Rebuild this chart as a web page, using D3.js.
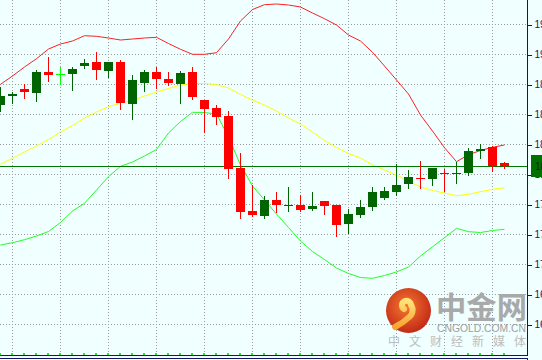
<!DOCTYPE html>
<html>
<head>
<meta charset="utf-8">
<script src="https://cdnjs.cloudflare.com/ajax/libs/d3/7.8.5/d3.min.js"></script>
<style>
	html, body { margin: 0; padding: 0; background: #F0FFFF; overflow: hidden; }
	#chart { width: 542px; height: 360px; }
	.axisLabel { font-family: "Liberation Sans", Arial, sans-serif; font-size: 10px; }
</style>
</head>
<body>
<div id="chart"></div>
<script>
// candles (oldest first)
var opens  = [1869, 1878.3, 1885.3, 1881.3, 1902.3, 1900, 1900.3, 1908.3, 1912.3, 1903.3,
              1912.3, 1870.3, 1891.3, 1902, 1895, 1890, 1902, 1874, 1866, 1858,
              1806.3, 1763.3, 1758.3, 1774, 1768.3, 1769, 1765.3, 1773, 1769, 1750.3,
              1759, 1767.3, 1776.3, 1782.3, 1789.7, 1796, 1795.3, 1800.5, 1799.7, 1801.3,
              1822.7, 1826.7, 1810.7];
var highs  = [1886.7, 1882.3, 1889.7, 1904.3, 1917, 1907.3, 1907.3, 1915.3, 1922.3, 1912.3,
              1914, 1899, 1904, 1907.3, 1902, 1903, 1907.3, 1874, 1869, 1863,
              1820.7, 1789, 1778, 1782, 1787, 1779.3, 1782, 1773, 1769, 1764.7,
              1774, 1787, 1787, 1809.7, 1804, 1813, 1806, 1805, 1812.3, 1825.7,
              1830, 1828.3, 1812.3];
var lows   = [1862.3, 1870, 1875, 1872.3, 1892.3, 1889, 1883.3, 1905.3, 1894, 1896.3,
              1864, 1854, 1882.3, 1884.7, 1888, 1869.7, 1874, 1841.3, 1849, 1795.3,
              1755, 1757.3, 1755.3, 1761.3, 1762.3, 1761.7, 1763.3, 1759.3, 1737.3, 1740,
              1756.3, 1763.3, 1774, 1778.3, 1785.3, 1785.3, 1788.3, 1782.3, 1790.3, 1797.7,
              1814.7, 1802.3, 1805];
var closes = [1878, 1880.3, 1882.3, 1902.3, 1899.3, 1900, 1905.3, 1911.3, 1904, 1912.3,
              1871.3, 1894, 1902, 1895.3, 1891.3, 1900.7, 1877.3, 1865, 1857.3, 1805,
              1762, 1759.3, 1774, 1769.3, 1769, 1764.3, 1768, 1768.3, 1749.3, 1760,
              1766.7, 1782, 1783, 1789, 1797, 1795.5, 1806, 1800, 1801.3, 1823,
              1825, 1808.3, 1808.3];

// bollinger bands
var upperBand  = [1889.7, 1898, 1907, 1915.3, 1925, 1930, 1933, 1938.3, 1937.7, 1936,
                  1934, 1935, 1936, 1936.7, 1930.5, 1924.7, 1919.7, 1919.7, 1921.3, 1935,
                  1953, 1964.5, 1969.3, 1970, 1969, 1967, 1961, 1955.3, 1949, 1939,
                  1933, 1921.7, 1908, 1894, 1880, 1859, 1843, 1826.3, 1812.3, 1819.3,
                  1823.5, 1826.7, 1829];
var middleBand = [1810, 1815.7, 1822, 1828, 1834.5, 1842, 1848.5, 1856, 1862, 1867.3,
                  1871, 1873.7, 1878, 1882, 1885.5, 1889, 1890.7, 1890.5, 1889.5, 1886,
                  1879.5, 1874, 1869, 1863, 1856, 1850, 1842, 1833.5, 1826.5, 1820.5,
                  1816, 1809.3, 1804, 1799, 1793, 1787, 1783.5, 1781, 1778.3, 1779.7,
                  1782.3, 1784.7, 1786.3];
var lowerBand  = [1729, 1731.3, 1734.3, 1738, 1742.5, 1751.5, 1763, 1770.7, 1784, 1797.3,
                  1807.7, 1812, 1818, 1824.5, 1841, 1852.5, 1861.7, 1861.5, 1860, 1837,
                  1809, 1788, 1774, 1760, 1746.5, 1733, 1722.5, 1714.5, 1706, 1700.5,
                  1696.5, 1695.7, 1698.5, 1702, 1707, 1718, 1727.2, 1736.3, 1745.7, 1742.3,
                  1741.5, 1743.5, 1744.7];

var yTicks = [1950, 1920, 1890, 1860, 1830, 1800, 1770, 1740, 1710, 1680, 1650];
var currentPrice = 1808;

//COLOURS
var COLOUR_BG = "#F0FFFF";
var COLOUR_UP = "#006400";
var COLOUR_DOWN = "#FF0000";
var COLOUR_DOJI = "#00FF00";
var COLOUR_AXIS = "#141464";
var COLOUR_GRID = "#9A9A9A";

var width = 542;
var height = 360;
var plotRight = 527;

var svg = d3.select("#chart")
			.append("svg")
			.attr("width", width)
			.attr("height", height);

svg.append("rect")
	.attr("width", width)
	.attr("height", height)
	.attr("fill", COLOUR_BG);

var x = d3.scaleLinear()
			.domain([0, 1])
			.range([0.5, 12.5]);

var y = d3.scaleLinear()
			.domain([1650, 1950])
			.range([324, 24]);

var idx = d3.range(closes.length);

// grid
var grid = svg.append("g").attr("shape-rendering", "crispEdges");

grid.selectAll("line.h")
	.data(yTicks)
	.enter().append("line")
	.attr("x1", 0)
	.attr("x2", plotRight)
	.attr("y1", function(d) { return y(d) + 0.5; })
	.attr("y2", function(d) { return y(d) + 0.5; })
	.attr("stroke", COLOUR_GRID)
	.attr("stroke-dasharray", "1,2");

grid.selectAll("line.v")
	.data(idx.filter(function(i) { return i % 4 == 1; }))
	.enter().append("line")
	.attr("x1", function(i) { return x(i); })
	.attr("x2", function(i) { return x(i); })
	.attr("y1", 0)
	.attr("y2", 355)
	.attr("stroke", COLOUR_GRID)
	.attr("stroke-dasharray", "1,2");

// bands
function bandLine(values, colour)
{
	var line = d3.line()
				.x(function(d, i) { return x(i); })
				.y(function(d) { return y(d); });
	svg.append("path")
		.datum(values)
		.attr("fill", "none")
		.attr("stroke", colour)
		.attr("stroke-width", 1)
		.attr("d", line);
}
bandLine(upperBand, "#FF2020");
bandLine(middleBand, "#FFFF00");
bandLine(lowerBand, "#22FF22");

// current price line
svg.append("line")
	.attr("x1", 0)
	.attr("x2", plotRight)
	.attr("y1", Math.round(y(currentPrice)) + 0.5)
	.attr("y2", Math.round(y(currentPrice)) + 0.5)
	.attr("stroke", "#007800")
	.attr("stroke-width", 1)
	.attr("shape-rendering", "crispEdges");

// candles
function candleColour(i)
{
	if (closes[i] > opens[i]) return COLOUR_UP;
	if (closes[i] < opens[i]) return COLOUR_DOWN;
	return COLOUR_DOJI;
}

var candles = svg.append("g").attr("shape-rendering", "crispEdges");

candles.selectAll("rect.wick")
	.data(idx)
	.enter().append("rect")
	.attr("x", function(i) { return x(i) - 0.5; })
	.attr("width", 1)
	.attr("y", function(i) { return Math.round(y(highs[i])); })
	.attr("height", function(i) { return Math.max(1, Math.round(y(lows[i])) - Math.round(y(highs[i]))); })
	.attr("fill", candleColour);

candles.selectAll("rect.body")
	.data(idx)
	.enter().append("rect")
	.attr("x", function(i) { return x(i) - 4.5; })
	.attr("width", 9)
	.attr("y", function(i) { return Math.round(y(Math.max(opens[i], closes[i]))); })
	.attr("height", function(i) {
		var h = Math.round(y(Math.min(opens[i], closes[i]))) - Math.round(y(Math.max(opens[i], closes[i])));
		return Math.max(1, h);
	})
	.attr("fill", candleColour);

// small period marks at the bottom
candles.selectAll("rect.mark")
	.data(idx)
	.enter().append("rect")
	.attr("x", function(i) { return x(i) - 1.5; })
	.attr("y", 353)
	.attr("width", 2)
	.attr("height", 2)
	.attr("fill", "#22EE22");

// right axis
var axisG = svg.append("g")
				.attr("transform", "translate(" + (plotRight + 0.5) + ",0.5)")
				.attr("class", "axisLabel")
				.call(d3.axisRight(y).tickValues(yTicks).tickSize(4).tickSizeOuter(0).tickPadding(3)
					.tickFormat(d3.format(".2f")));
axisG.select(".domain").remove();
axisG.selectAll("line").attr("stroke", COLOUR_AXIS).attr("shape-rendering", "crispEdges");
axisG.selectAll("text").attr("fill", COLOUR_AXIS).attr("font-family", "Liberation Sans, Arial, sans-serif").attr("font-size", 10);

var frame = svg.append("g").attr("shape-rendering", "crispEdges").attr("stroke", COLOUR_AXIS);
frame.append("line").attr("x1", plotRight + 0.5).attr("x2", plotRight + 0.5).attr("y1", 0).attr("y2", 356);
frame.append("line").attr("x1", 0).attr("x2", plotRight + 1).attr("y1", 355.5).attr("y2", 355.5);
frame.append("line").attr("x1", 0).attr("x2", plotRight + 1).attr("y1", 358.5).attr("y2", 358.5);
frame.append("line").attr("x1", plotRight + 0.5).attr("x2", plotRight + 0.5).attr("y1", 358).attr("y2", 360);

// current price label
var py = Math.round(y(currentPrice));
svg.append("rect")
	.attr("x", 531)
	.attr("y", py - 11)
	.attr("width", 20)
	.attr("height", 22)
	.attr("fill", "#007000");
svg.append("text")
	.attr("x", 535)
	.attr("y", py + 4)
	.attr("fill", "#0A200A")
	.attr("font-family", "Liberation Sans, Arial, sans-serif")
	.attr("font-size", 10)
	.text(d3.format(".2f")(currentPrice));

// watermark
var defs = svg.append("defs");
var rg = defs.append("radialGradient").attr("id", "logoGrad").attr("cx", "45%").attr("cy", "40%").attr("r", "60%");
rg.append("stop").attr("offset", "0%").attr("stop-color", "#F47A2E");
rg.append("stop").attr("offset", "100%").attr("stop-color", "#C42A18");
var yg = defs.append("linearGradient").attr("id", "swirlGrad").attr("x1", "0").attr("y1", "0").attr("x2", "0").attr("y2", "1");
yg.append("stop").attr("offset", "0%").attr("stop-color", "#FFE37A");
yg.append("stop").attr("offset", "100%").attr("stop-color", "#F7A531");

var wm = svg.append("g");
wm.append("circle")
	.attr("cx", 408.5)
	.attr("cy", 310.5)
	.attr("r", 22.5)
	.attr("fill", "url(#logoGrad)");
wm.append("path")
	.attr("d", "M404,309 a4.5,4.5 0 1 1 7,-4 a9,9 0 0 1 -3,13 q-5,5 -13,9")
	.attr("fill", "none")
	.attr("stroke", "url(#swirlGrad)")
	.attr("stroke-width", 6)
	.attr("stroke-linecap", "round");

wm.append("text")
	.attr("x", 436)
	.attr("y", 318)
	.attr("font-family", "Noto Sans CJK SC")
	.attr("font-weight", "bold")
	.attr("font-size", 30)
	.attr("fill", "#A9A9A9")
	.attr("textLength", 91)
	.attr("lengthAdjust", "spacingAndGlyphs")
	.text("中金网");

wm.append("text")
	.attr("x", 437)
	.attr("y", 331.5)
	.attr("font-family", "Liberation Sans, Arial, sans-serif")
	.attr("font-size", 10.5)
	.attr("fill", "#A0A0A0")
	.attr("textLength", 89)
	.attr("lengthAdjust", "spacingAndGlyphs")
	.text("CNGOLD.COM.CN");

wm.append("text")
	.attr("x", 388)
	.attr("y", 346)
	.attr("font-family", "Noto Sans CJK SC")
	.attr("font-size", 12)
	.attr("fill", "#BDBDBD")
	.attr("textLength", 138)
	.attr("lengthAdjust", "spacing")
	.text("中文财经新媒体");
</script>
</body>
</html>
